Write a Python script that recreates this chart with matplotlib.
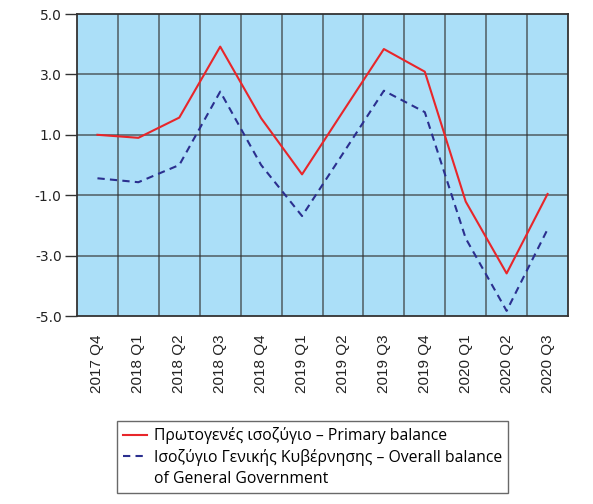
# Primary balance vs overall balance of General Government, quarterly (% of GDP)

import numpy as np
import matplotlib.pyplot as plt
from matplotlib.lines import Line2D

quarters = ['2017 Q4', '2018 Q1', '2018 Q2', '2018 Q3', '2018 Q4', '2019 Q1',
            '2019 Q2', '2019 Q3', '2019 Q4', '2020 Q1', '2020 Q2', '2020 Q3']
primary_balance = [1.0, 0.9, 1.57, 3.92, 1.55, -0.31, 1.77, 3.84, 3.09, -1.21, -3.59, -0.96]
overall_balance = [-0.44, -0.57, 0.0, 2.43, 0.0, -1.69, 0.38, 2.46, 1.75, -2.43, -4.83, -2.13]

label_primary = 'Πρωτογενές ισοζύγιο – Primary balance'
label_overall = 'Ισοζύγιο Γενικής Κυβέρνησης – Overall balance'
label_overall_cont = 'of General Government'

fig = plt.figure(figsize=(5.93, 5.04), dpi=100)
ax = fig.add_axes([77 / 593, 1 - 316 / 504, 491 / 593, 302 / 504])
ax.set_facecolor('#abdff8')

x = np.arange(len(quarters))
l1, = ax.plot(x, primary_balance, color='#e8262a', lw=1.5)
l2, = ax.plot(x, overall_balance, color='#2b2f8f', lw=1.5, ls=(0, (3.5, 2.5)))

ax.set_xlim(-0.5, len(quarters) - 0.5)
ax.set_ylim(-5, 5)

# grid lines sit on the column boundaries, points in the middle
for b in np.arange(0.5, len(quarters) - 0.5, 1):
    ax.axvline(b, color='#333333', lw=1.2, alpha=0.7, zorder=1)
for yv in [-3, -1, 1, 3]:
    ax.axhline(yv, color='#333333', lw=1.2, alpha=0.7, zorder=1)

ax.set_yticks([-5, -3, -1, 1, 3, 5])
ax.set_yticklabels(['%.1f' % v for v in [-5, -3, -1, 1, 3, 5]],
                   fontsize=10, family='DejaVu Sans', color='#222222')
ax.tick_params(axis='y', length=9, width=1, color='#333333', pad=2)

ax.set_xticks(x)
ax.set_xticklabels(quarters, rotation=90, fontsize=11, family='Liberation Sans', color='#222222')
ax.tick_params(axis='x', length=0, pad=13)

for s in ax.spines.values():
    s.set_color('#333333')
    s.set_linewidth(1.3)

# third row is the wrapped text of the second label, no handle
blank = Line2D([], [], color='none')
leg = fig.legend([l1, l2, blank], [label_primary, label_overall, label_overall_cont],
                 loc='upper left', bbox_to_anchor=(117 / 593, 1 - 421 / 504),
                 bbox_transform=fig.transFigure, borderaxespad=0, frameon=True,
                 fancybox=False, edgecolor='#444444', handlelength=1.5,
                 handletextpad=0.45, borderpad=0.4, labelspacing=0.3,
                 prop={'family': ['Open Sans', 'DejaVu Sans'], 'size': 11.3})
leg.get_frame().set_linewidth(1.0)

plt.savefig('out.png', dpi=100)
plt.close()
